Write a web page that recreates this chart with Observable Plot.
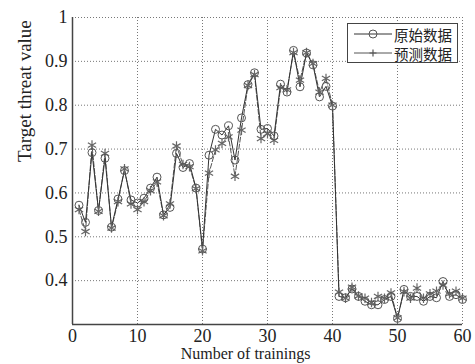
<!DOCTYPE html>
<html>
<head>
<meta charset="utf-8">
<script src="https://cdn.jsdelivr.net/npm/d3@7"></script>
<script src="https://cdn.jsdelivr.net/npm/@observablehq/plot@0.6"></script>
<style>
  body { margin: 0; background: white; }
  #wrap { position: relative; width: 475px; height: 364px; overflow: hidden; background: white; }
  #legend { position: absolute; left: 347px; top: 23px; width: 109px; height: 38px;
    border: 1.5px solid #444; background: white; font-family: "Noto Sans CJK SC", sans-serif;
    font-size: 14.5px; color: #222; }
  .row { display: flex; align-items: center; height: 18px; margin-top: 1px; }
  .row svg { margin-left: 6px; margin-right: 2px; }
</style>
</head>
<body>
<div id="wrap">
  <div id="legend">
    <div class="row"><svg width="38" height="12"><line x1="0" y1="6" x2="38" y2="6" stroke="#333" stroke-width="1"/><circle cx="19" cy="6" r="4" fill="none" stroke="#555" stroke-width="1"/></svg><span>原始数据</span></div>
    <div class="row"><svg width="38" height="12"><line x1="0" y1="6" x2="38" y2="6" stroke="#555" stroke-width="1"/><path d="M19,2.5V9.5M15.5,6H22.5" stroke="#555" stroke-width="1.2"/></svg><span>预测数据</span></div>
  </div>
</div>
<script>
const xTicks = [0, 10, 20, 30, 40, 50, 60];
const yTicks = [0.4, 0.5, 0.6, 0.7, 0.8, 0.9, 1];
const seriesNames = ["原始数据", "预测数据"];
const xLabel = "Number of trainings";
const yLabel = "Target threat value";

const original = [
  0.572, 0.533, 0.692, 0.560, 0.679, 0.522, 0.586, 0.651, 0.584, 0.577,
  0.588, 0.611, 0.636, 0.550, 0.567, 0.690, 0.658, 0.667, 0.611, 0.472,
  0.686, 0.745, 0.732, 0.753, 0.675, 0.771, 0.847, 0.874, 0.745, 0.747,
  0.730, 0.848, 0.830, 0.925, 0.842, 0.919, 0.892, 0.819, 0.843, 0.798,
  0.364, 0.361, 0.381, 0.364, 0.353, 0.345, 0.345, 0.357, 0.364, 0.314,
  0.380, 0.364, 0.364, 0.353, 0.364, 0.361, 0.398, 0.364, 0.368, 0.357
];
const predicted = [
  0.562, 0.512, 0.709, 0.558, 0.690, 0.520, 0.580, 0.655, 0.575, 0.562,
  0.580, 0.605, 0.625, 0.548, 0.575, 0.707, 0.665, 0.660, 0.610, 0.468,
  0.645, 0.698, 0.713, 0.728, 0.638, 0.743, 0.845, 0.870, 0.724, 0.735,
  0.720, 0.840, 0.835, 0.920, 0.857, 0.920, 0.895, 0.830, 0.861, 0.800,
  0.374, 0.360, 0.385, 0.365, 0.360, 0.350, 0.364, 0.360, 0.372, 0.315,
  0.375, 0.360, 0.383, 0.360, 0.370, 0.376, 0.390, 0.370, 0.376, 0.360
];

const orig = original.map((v, i) => ({n: i + 1, v}));
const pred = predicted.map((v, i) => ({n: i + 1, v}));

const chart = Plot.plot({
  width: 475,
  height: 364,
  marginLeft: 72,
  marginRight: 13,
  marginTop: 17,
  marginBottom: 40,
  style: {fontFamily: "'Liberation Serif', 'DejaVu Serif', serif", fontSize: "18px", color: "#222", background: "white", overflow: "visible"},
  x: {domain: [0, 60], ticks: xTicks, tickSize: 0, tickPadding: 5, label: null, tickFormat: d3.format("~g")},
  y: {domain: [0.3, 1], ticks: yTicks, tickSize: 0, tickPadding: 5, label: null, tickFormat: d3.format("~g")},
  marks: [
    Plot.gridX(xTicks.slice(1), {stroke: "#777", strokeOpacity: 1, strokeDasharray: "1,2"}),
    Plot.gridY(yTicks, {stroke: "#777", strokeOpacity: 1, strokeDasharray: "1,2"}),
    Plot.line(pred, {x: "n", y: "v", stroke: "#555", strokeWidth: 1, strokeDasharray: "5,2"}),
    Plot.line(orig, {x: "n", y: "v", stroke: "#333", strokeWidth: 1}),
    Plot.dot(pred, {x: "n", y: "v", symbol: "asterisk", r: 4.5, stroke: "#666", strokeWidth: 1.2}),
    Plot.dot(orig, {x: "n", y: "v", symbol: "circle", r: 4, stroke: "#555", strokeWidth: 1, fill: "none"}),
    Plot.ruleX([0], {stroke: "#444", strokeWidth: 1.5}),
    Plot.ruleY([0.3], {stroke: "#444", strokeWidth: 1.5}),
    Plot.text([yLabel], {frameAnchor: "left", rotate: -90, dx: -48, dy: -9, fontSize: 19, fill: "#222"}),
    Plot.text([xLabel], {frameAnchor: "bottom", lineAnchor: "top", dx: -22, dy: 23, fontSize: 16, fill: "#222"})
  ]
});
document.getElementById("wrap").prepend(chart);
</script>
</body>
</html>
